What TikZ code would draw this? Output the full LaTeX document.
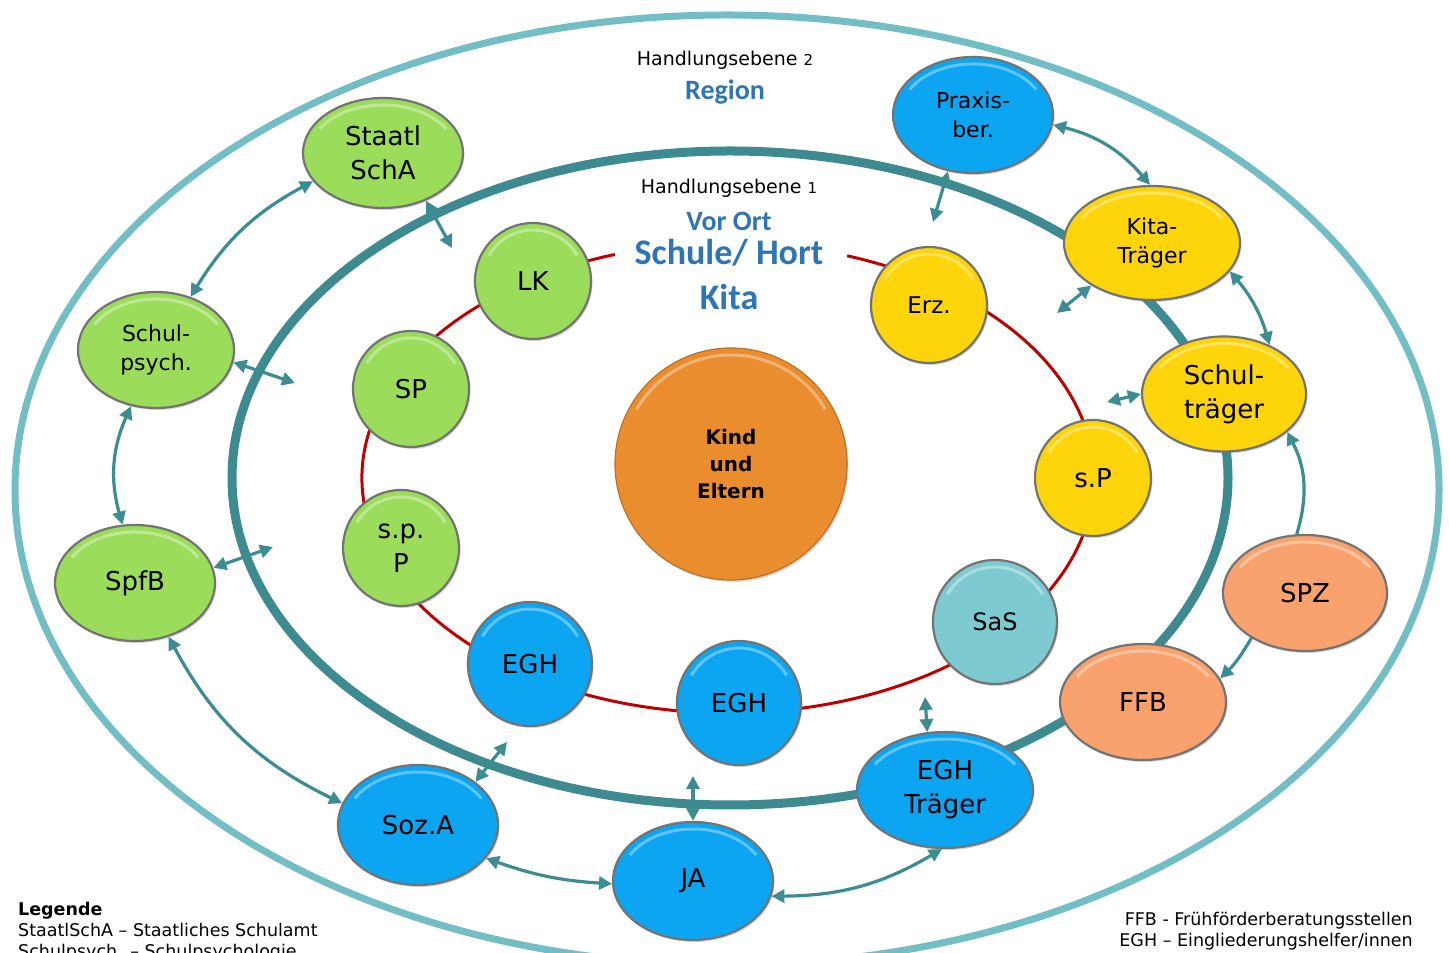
\documentclass[tikz,border=0pt]{standalone}
\usepackage{fontspec}
\setmainfont{DejaVu Sans}
\newfontfamily\calfont{Carlito}
\usetikzlibrary{shapes.geometric,arrows.meta,shadows,calc}
\definecolor{gr}{HTML}{9BDD5B}
\definecolor{bl}{HTML}{0BA5F2}
\definecolor{ye}{HTML}{FDD50A}
\definecolor{sasc}{HTML}{7DCBD1}
\definecolor{sal}{HTML}{F9A26E}
\definecolor{orc}{HTML}{E98D2F}
\definecolor{midc}{HTML}{3D8B90}
\definecolor{outc}{HTML}{72BEC4}
\definecolor{arrc}{HTML}{3B8D92}
\definecolor{redc}{HTML}{C00000}
\definecolor{txtblue}{HTML}{2E75B6}
\begin{document}
\begin{tikzpicture}[x=1pt,y=1pt,
  bub/.style={draw=black!55, line width=2.2pt, inner sep=0pt, align=center, text=black,
    drop shadow={shadow xshift=1.5pt, shadow yshift=-2pt, opacity=0.3},
    path picture={\draw[white,opacity=0.35,line width=3pt]
      let \p1=($(path picture bounding box.north east)-(path picture bounding box.center)$),
          \n1={\x1-7pt}, \n2={\y1-7pt} in
      ($(path picture bounding box.center)+({\n1*cos(150)},{\n2*sin(150)})$)
      arc[start angle=150,end angle=30,x radius=\n1,y radius=\n2];}},
  ell/.style={bub, ellipse},
  circ/.style={bub, circle},
  big/.style={font=\fontsize{26}{34}\selectfont},
  mid/.style={font=\fontsize{22}{29}\selectfont},
  arr/.style={draw=arrc, line width=3.2pt, {Triangle[length=13pt,width=13pt]}-{Triangle[length=13pt,width=13pt]}},
  arrone/.style={draw=arrc, line width=3.2pt, -{Triangle[length=13pt,width=13pt]}},
  leg/.style={font=\fontsize{17.5}{21}\selectfont, inner sep=0pt}
]
\clip (0,0) rectangle (1449,953);
\fill[white] (0,0) rectangle (1449,953);
% rings
\draw[outc, line width=7pt] (727,463) ellipse[x radius=712, y radius=475];
\draw[midc, line width=9pt] (730,475) ellipse[x radius=498, y radius=327];
\draw[redc, line width=3pt] ([shift={(108:366 and 235)}]728,475) arc[start angle=108, end angle=431, x radius=366, y radius=235];

% titles
\node (h2) at (725,893) {\fontsize{19}{21}\selectfont Handlungsebene \fontsize{15}{16}\selectfont 2};
\node[text=txtblue, font=\calfont\bfseries\fontsize{28}{30}\selectfont] (region) at (725,861) {Region};
\node (h1) at (729,765) {\fontsize{19}{21}\selectfont Handlungsebene \fontsize{15}{16}\selectfont 1};
\node[text=txtblue, font=\calfont\bfseries\fontsize{28}{30}\selectfont] (vorort) at (729,732) {Vor Ort};
\node[text=txtblue, font=\calfont\bfseries\fontsize{36}{38}\selectfont] (schule) at (729,700) {Schule/ Hort};
\node[text=txtblue, font=\calfont\bfseries\fontsize{36}{38}\selectfont] (kita) at (729,656) {Kita};

% nodes
\node[circ, fill=orc, minimum size=232pt, font=\bfseries\fontsize{20}{27}\selectfont, draw=orc!80!black, line width=1.2pt] (kind) at (731,489) {Kind\\und\\Eltern};

\node[ell, fill=gr, big, minimum width=160pt, minimum height=110pt] (scha) at (383,800) {Staatl\\SchA};
\node[circ, fill=gr, big, minimum size=116pt] (lk) at (533,672) {LK};
\node[ell, fill=gr, mid, minimum width=156pt, minimum height=116pt] (psych) at (156,603) {Schul-\\psych.};
\node[circ, fill=gr, big, minimum size=116pt] (sp) at (411,564) {SP};
\node[circ, fill=gr, big, minimum size=116pt] (spp) at (401,405) {s.p.\\P};
\node[ell, fill=gr, big, minimum width=160pt, minimum height=116pt] (spfb) at (135,370) {SpfB};

\node[circ, fill=bl, big, minimum size=124pt] (eghl) at (530,289) {EGH};
\node[circ, fill=bl, big, minimum size=124pt] (eghc) at (739,250) {EGH};
\node[ell, fill=bl, big, minimum width=160pt, minimum height=120pt] (soza) at (418,128) {Soz.A};
\node[ell, fill=bl, big, minimum width=160pt, minimum height=118pt] (ja) at (693,72) {JA};
\node[ell, fill=bl, big, minimum width=176pt, minimum height=116pt] (eght) at (945,163) {EGH\\Träger};
\node[ell, fill=bl, mid, minimum width=160pt, minimum height=116pt] (praxis) at (973,838) {Praxis-\\ber.};

\node[circ, fill=sasc, font=\fontsize{24}{30}\selectfont, minimum size=124pt] (sas) at (995,331) {SaS};
\node[circ, fill=ye, big, minimum size=116pt] (spr) at (1093,475) {s.P};
\node[circ, fill=ye, font=\fontsize{23}{29}\selectfont, minimum size=116pt] (erz) at (929,648) {Erz.};
\node[ell, fill=ye, mid, minimum width=176pt, minimum height=114pt] (kitat) at (1152,710) {Kita-\\Träger};
\node[ell, fill=ye, big, minimum width=164pt, minimum height=115pt] (schult) at (1224,559) {Schul-\\träger};

\node[ell, fill=sal, big, minimum width=164pt, minimum height=116pt] (spz) at (1305,360) {SPZ};
\node[ell, fill=sal, big, minimum width=166pt, minimum height=116pt] (ffb) at (1143,251) {FFB};

% free arrow ends
\coordinate (c1) at (452,705);
\coordinate (c2) at (295,570);
\coordinate (c3) at (273,406);
\coordinate (c4) at (507,211);
\coordinate (c5) at (693,177);
\coordinate (c6) at (925,256);
\coordinate (c7) at (1107,551);
\coordinate (c8) at (1057,640);
\coordinate (c9) at (933,731);

% connectors
\draw[arr] (scha.202) to[bend right=15] (psych.57);
\draw[arr] (scha.312) -- (c1);
\draw[arr] (psych.351) -- (c2);
\draw[arr] (psych.246) to[bend right=20] (spfb.102);
\draw[arr] (spfb.11) -- (c3);
\draw[arr] (spfb.302) to[bend right=18] (soza.164);
\draw[arr] (soza.37) -- (c4);
\draw[arr] (soza.334) to[bend right=8] (ja.182);
\draw[arr] (ja.90) -- (c5);
\draw[arr] (ja.349) to[bend right=15] (eght.267);
\draw[arr] (eght.107) -- (c6);
\draw[arrone] (spz.220) to[bend left=8] (ffb.17);
\draw[arrone] (spz.98) to[bend right=22] (schult.329);
\draw[arr] (kitat.340) to[bend left=12] (schult.47);
\draw[arr] (schult.180) -- (c7);
\draw[arr] (kitat.215) -- (c8);
\draw[arr] (praxis.353) to[bend left=18] (kitat.92);
\draw[arr] (praxis.246) -- (c9);

% legends
\node[leg, anchor=base west] (l0) at (18,37) {\bfseries Legende};
\node[leg, anchor=base west] (l1) at (18,16) {StaatlSchA – Staatliches Schulamt};
\node[leg, anchor=base west] (l2) at (18,-5) {Schulpsych. – Schulpsychologie};
\node[leg, anchor=base east] (r1) at (1413,27) {FFB - Frühförderberatungsstellen};
\node[leg, anchor=base east] (r2) at (1413,6) {EGH – Eingliederungshelfer/innen};
\end{tikzpicture}
\end{document}
